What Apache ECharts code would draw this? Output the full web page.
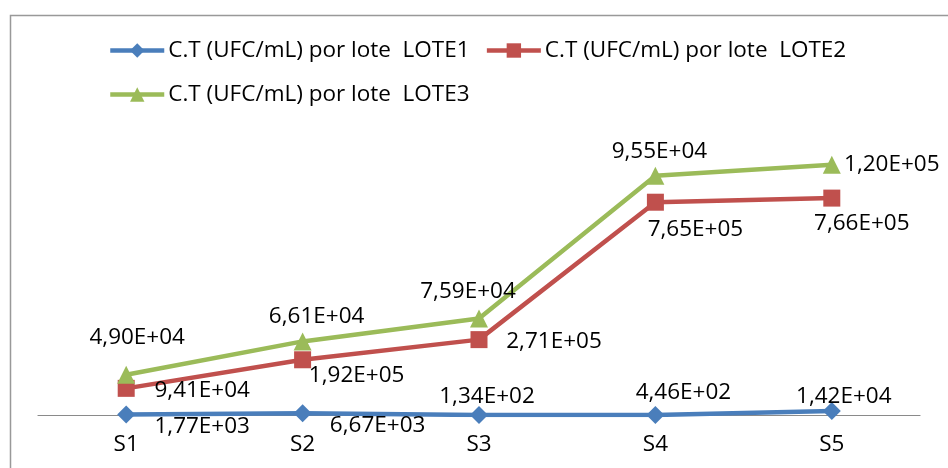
<!DOCTYPE html>
<html><head><meta charset="utf-8">
<script src="https://cdn.jsdelivr.net/npm/echarts@6/dist/echarts.min.js"></script>
<style>html,body{margin:0;padding:0;background:#fff}#c{width:948px;height:468px}</style>
</head><body><div id="c"></div>
<script>
const categories = ['S1', 'S2', 'S3', 'S4', 'S5'];
const seriesNames = ['C.T (UFC/mL) por lote  LOTE1', 'C.T (UFC/mL) por lote  LOTE2', 'C.T (UFC/mL) por lote  LOTE3'];
const lote1 = [1770, 6670, 134, 446, 14200];
const lote2 = [94100, 192000, 271000, 765000, 766000];
const lote3 = [49000, 66100, 75900, 95500, 120000];

// label placement offsets (styling only)
const offsets1 = [[76, 12], [75, 12], [8, -18], [28, -22], [12, -14]];
const offsets2 = [[76, 2], [54, 16], [75, 2], [40, 27], [30, 25]];
const offsets3 = [[11, -37], [14, -25], [-11, -27], [4, -24], [60, 0]];

const FONT = 'Open Sans';
const FS = 22.5;
function fmt(v) {
  const s = v.toExponential(2);
  const parts = s.split('e');
  const e = parseInt(parts[1], 10);
  const sign = e < 0 ? '-' : '+';
  const d = Math.abs(e);
  return parts[0].replace('.', ',') + 'E' + sign + (d < 10 ? '0' : '') + d;
}
function build(values, offs) {
  return values.map((v, i) => ({ value: v, label: { offset: offs[i] } }));
}
function mkSeries(name, values, offs, color, symbol, size) {
  return {
    name: name, type: 'line', stack: 'total', data: build(values, offs),
    symbol: symbol, symbolSize: size,
    lineStyle: { color: color, width: 4.5 },
    itemStyle: { color: color },
    label: {
      show: true, position: 'inside', color: '#000', fontSize: FS, fontFamily: FONT,
      formatter: p => fmt(p.value)
    },
    emphasis: { disabled: true }, animation: false, z: 3
  };
}
const legendBase = {
  itemWidth: 54, itemHeight: 18, itemGap: 15, padding: 0,
  lineStyle: { width: 4.5 },
  textStyle: { color: '#000', fontSize: FS, fontFamily: FONT, padding: [0, 0, 0, -1] }
};
const chart = echarts.init(document.getElementById('c'));
chart.setOption({
  animation: false,
  backgroundColor: '#fff',
  graphic: [{
    type: 'rect', shape: { x: 10.5, y: 15.5, width: 1000, height: 1000 },
    style: { fill: 'none', stroke: '#999', lineWidth: 1.5 }, z: -10
  }],
  legend: [
    Object.assign({ data: [seriesNames[0], seriesNames[1]], left: 108, top: 39 }, legendBase),
    Object.assign({ data: [seriesNames[2]], left: 108, top: 83 }, legendBase)
  ],
  grid: { left: 38, right: 28, top: 137, bottom: 53 },
  xAxis: {
    type: 'category', data: categories, boundaryGap: true,
    axisLine: { lineStyle: { color: '#8a8a8a', width: 1.2 } },
    axisTick: { show: false },
    axisLabel: { color: '#000', fontSize: FS, fontFamily: FONT, margin: 18 }
  },
  yAxis: { type: 'value', min: 0, max: 1000000, show: false, splitLine: { show: false } },
  series: [
    mkSeries(seriesNames[0], lote1, offsets1, '#4A7EBB', 'diamond', 18),
    mkSeries(seriesNames[1], lote2, offsets2, '#C0504D', 'rect', 17),
    mkSeries(seriesNames[2], lote3, offsets3, '#9BBB59', 'triangle', 18)
  ]
});
</script></body></html>
